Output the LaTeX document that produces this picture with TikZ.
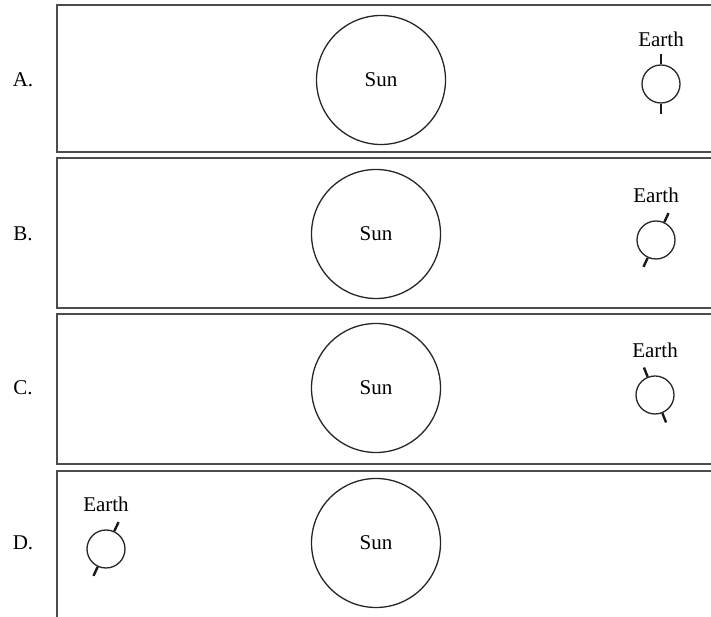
\documentclass[tikz,border=0pt]{standalone}
\usepackage{fontspec}
\setmainfont{Liberation Serif}

\begin{document}
\begin{tikzpicture}
  [x=1pt,y=1pt,every node/.style={font=\fontsize{21}{25}\selectfont},
   panel/.style={draw=black!70,line width=1.8pt},
   body/.style={circle,draw=black!85,line width=1.3pt,inner sep=0pt},
   axis/.style={draw=black!90,line width=2.4pt}]
  \useasboundingbox (0,0) rectangle (711,617);
  \clip (0,0) rectangle (711,617);
  \foreach \p/\top/\bot/\sx/\sy/\ex/\ey/\tilt in
    {A/612/465/381/537/661/533/0, B/459/309/376/383/656/377/-25,
     C/303/153/376/229/655/222/22, D/146/-20/376/74/106/68/-25}
  {
    \draw[panel] (730,\top) -- (57,\top) -- (57,\bot) -- (730,\bot);
    \node (let\p) at (23,\sy) {\p.};
    \node[body,minimum size=129pt] (sun\p) at (\sx,\sy) {Sun};
    \node[body,minimum size=38pt] (earth\p) at (\ex,\ey) {};
    \node (lab\p) at (\ex,\ey+45) {Earth};
    \pgfmathsetmacro{\up}{90+\tilt}
    \pgfmathsetmacro{\dn}{270+\tilt}
    \draw[axis] (earth\p.\up) -- ++(\up:10);
    \draw[axis] (earth\p.\dn) -- ++(\dn:10);
  }
\end{tikzpicture}
\end{document}
